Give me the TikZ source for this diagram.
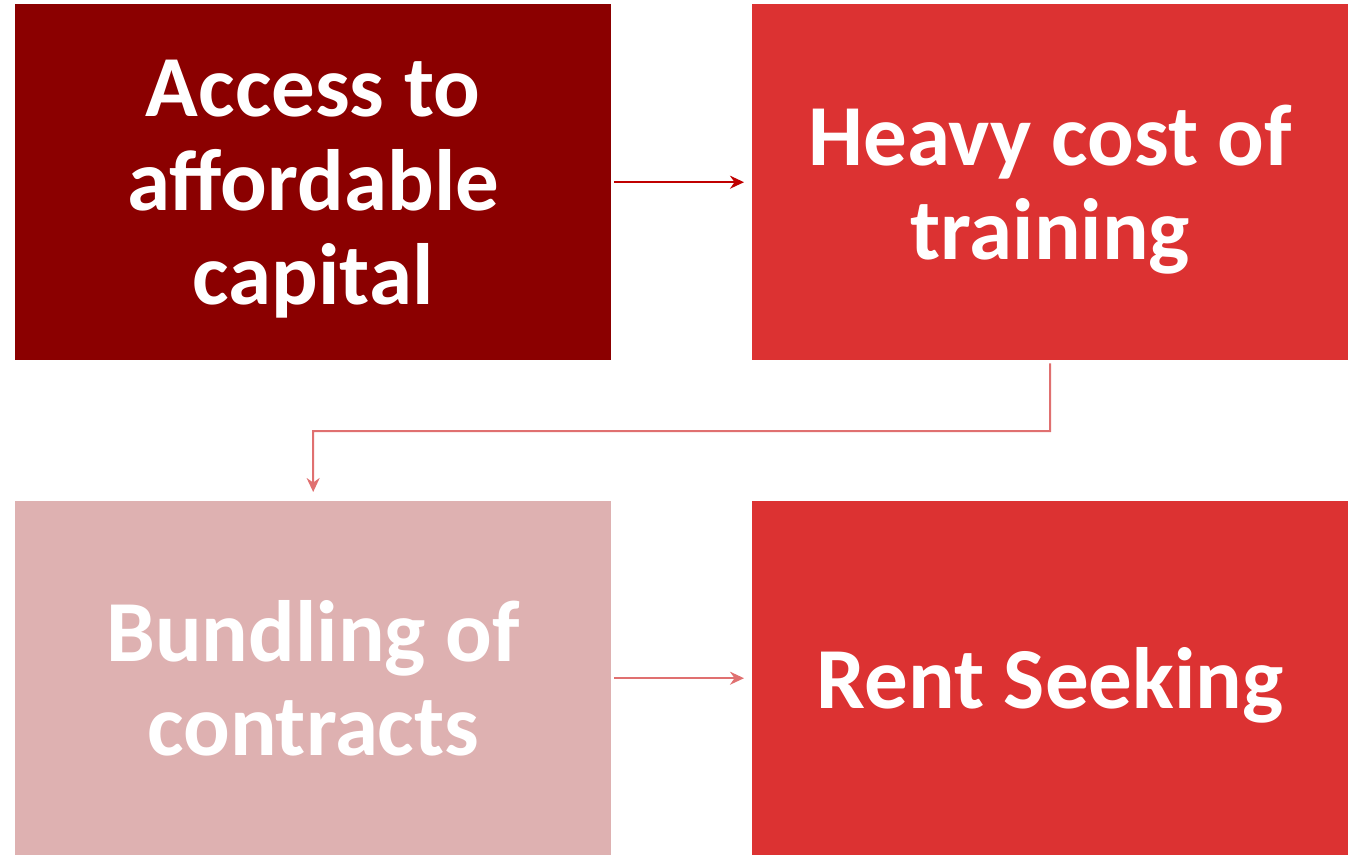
\documentclass[tikz,border=0pt]{standalone}
\usepackage{fontspec}
\setmainfont{Carlito}
\usetikzlibrary{arrows.meta}
\definecolor{boxA}{HTML}{8B0000}
\definecolor{boxB}{HTML}{DC3232}
\definecolor{boxC}{HTML}{DEB1B1}
\definecolor{arrA}{HTML}{C00000}
\definecolor{arrB}{HTML}{E07070}
\begin{document}
\begin{tikzpicture}[x=1pt,y=-1pt,
  box/.style={minimum width=596pt,minimum height=356pt,inner sep=0pt,text=white,
    font=\bfseries\fontsize{87}{94}\selectfont,align=center,anchor=north west,text depth=0pt},
  conn/.style={line width=2pt,-{Stealth[length=14pt,width=13pt]}}]
\useasboundingbox (0,0) rectangle (1358,855);
\node[box,fill=boxA] (a) at (15,4) {Access to\\affordable\\capital};
\node[box,fill=boxB] (b) at (752,4) {Heavy cost of\\training};
\node[box,fill=boxC,minimum height=354pt] (c) at (15,501) {Bundling of\\contracts};
\node[box,fill=boxB,minimum height=354pt] (d) at (752,501) {Rent Seeking};
\coordinate (bb) at ([yshift=-3pt]b.south);
\coordinate (ct) at ([yshift=9pt]c.north);
\coordinate (bend) at (313,431);
\draw[conn,draw=arrA] ([xshift=3pt]a.east) -- ([xshift=-8pt]b.west);
\draw[conn,draw=arrB] (bb) |- (bend) -- (ct);
\draw[conn,draw=arrB] ([xshift=3pt]c.east) -- ([xshift=-8pt]d.west);
\end{tikzpicture}
\end{document}
